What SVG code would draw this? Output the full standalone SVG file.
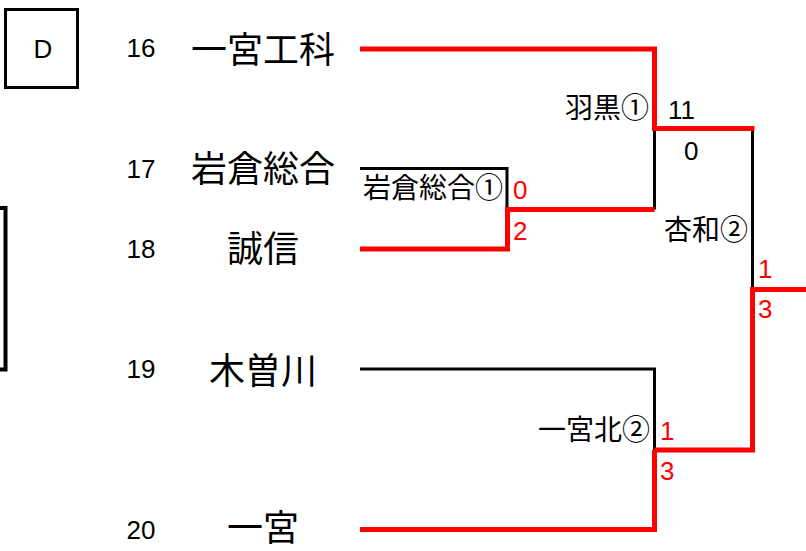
<svg xmlns="http://www.w3.org/2000/svg" width="806" height="551" viewBox="0 0 806 551">
<style>
.num{font-family:"Liberation Sans",Arial,sans-serif;font-size:26px;fill:#000}
.team{font-family:"Noto Sans CJK JP","Noto Sans",sans-serif;font-size:36px;fill:#000;text-anchor:middle}
.lbl{font-family:"Noto Sans CJK JP","Noto Sans",sans-serif;font-size:28px;fill:#000;text-anchor:end}
.sc{font-family:"Liberation Sans",Arial,sans-serif;font-size:26px}
.red{fill:#ff0000}
.blk{fill:#000}
.lb{fill:none;stroke:#000;stroke-width:3;stroke-linejoin:miter}
.lr{fill:none;stroke:#ff0000;stroke-width:5;stroke-linejoin:miter}
</style>
<rect width="806" height="551" fill="#fff"/>
<g id="block">
<rect x="5.5" y="9.5" width="72" height="78" fill="none" stroke="#000" stroke-width="3"/>
<text x="43" y="57.5" class="num" text-anchor="middle" font-size="26">D</text>
<path d="M0,208 H5.5 V369.5 H0" fill="none" stroke="#000" stroke-width="4"/>
</g>
<g id="connectors">
<path class="lb" d="M360,168.5 H507 V209"/>
<path class="lb" d="M654.5,128.5 V209.5"/>
<path class="lb" d="M752.5,128.5 V289.5"/>
<path class="lb" d="M360,369 H654.5 V450"/>
<path class="lr" d="M360,49 H654.5 V128.5 H754.5"/>
<path class="lr" d="M360,249 H507.5 V209.5 H654.5"/>
<path class="lr" d="M806,289.5 H752.5 V450 H654.5"/>
<path class="lr" d="M360,529.5 H654.5 V450"/>
</g>
<g id="team16"><text x="141" y="57" class="num" text-anchor="middle">16</text><text x="263" y="62.5" class="team">一宮工科</text></g>
<g id="team17"><text x="141" y="178" class="num" text-anchor="middle">17</text><text x="263" y="182" class="team">岩倉総合</text></g>
<g id="team18"><text x="141" y="258" class="num" text-anchor="middle">18</text><text x="263" y="262" class="team">誠信</text></g>
<g id="team19"><text x="141" y="378" class="num" text-anchor="middle">19</text><text x="263" y="383.5" class="team">木曽川</text></g>
<g id="team20"><text x="141" y="539" class="num" text-anchor="middle">20</text><text x="263" y="540.5" class="team">一宮</text></g>
<g id="match1">
<text x="503" y="198" class="lbl">岩倉総合①</text>
<text x="513" y="199" class="sc red">0</text>
<text x="513" y="240" class="sc red">2</text>
</g>
<g id="match2">
<text x="649" y="118" class="lbl">羽黒①</text>
<text x="668" y="119" class="sc blk">11</text>
<text x="684" y="160" class="sc blk">0</text>
</g>
<g id="match3">
<text x="650" y="440" class="lbl">一宮北②</text>
<text x="660" y="440" class="sc red">1</text>
<text x="660" y="480" class="sc red">3</text>
</g>
<g id="match4">
<text x="748" y="240" class="lbl">杏和②</text>
<text x="758" y="278" class="sc red">1</text>
<text x="758" y="318" class="sc red">3</text>
</g>
</svg>
